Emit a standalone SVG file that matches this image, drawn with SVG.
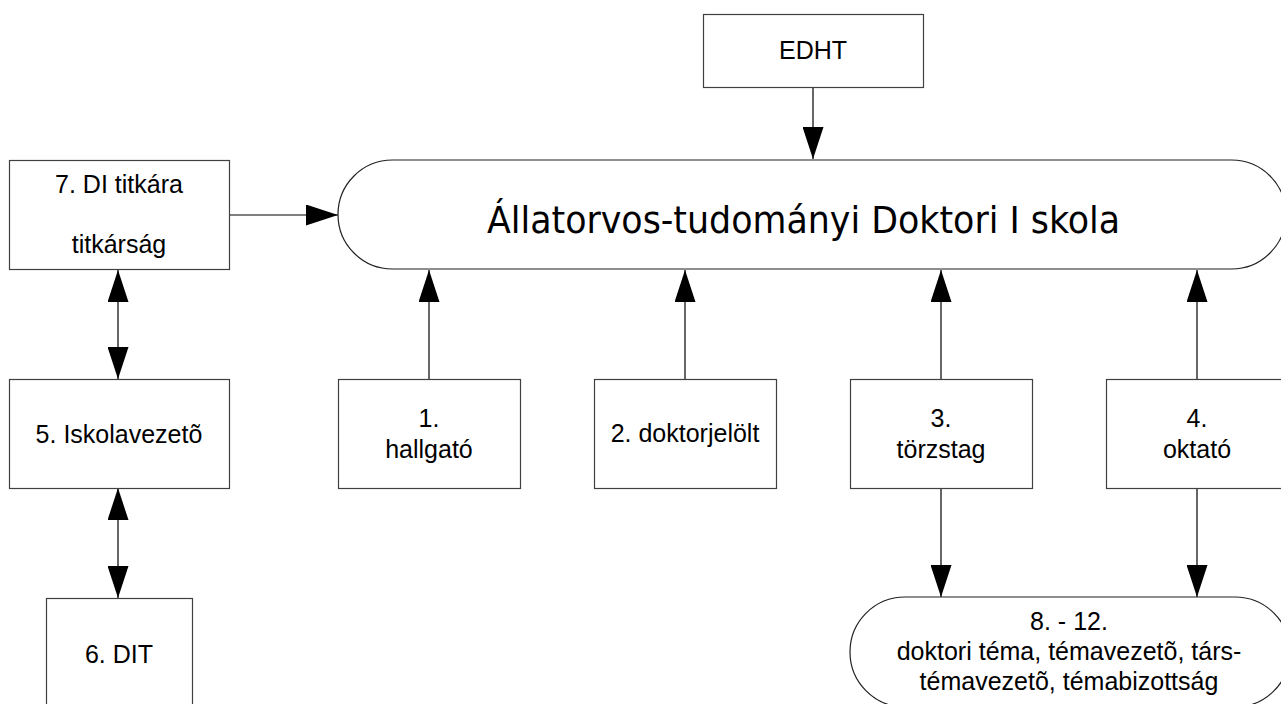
<svg xmlns="http://www.w3.org/2000/svg" width="1281" height="704" viewBox="0 0 1281 704">
<defs>
<style>
.box{fill:#fff;stroke:#404040;stroke-width:1.2}
.pill{fill:#fff;stroke:#202020;stroke-width:1.2}
.t{font-family:"Liberation Sans",Arial,sans-serif;font-size:25px;fill:#000;text-anchor:middle}
.title{font-family:"Liberation Sans Narrow","DejaVu Sans Condensed",sans-serif;font-size:38px;fill:#000}
.c{stroke:#000;stroke-width:1.2;fill:none}
</style>
<marker id="ah" markerUnits="userSpaceOnUse" markerWidth="32" markerHeight="21" refX="32" refY="10.5" orient="auto-start-reverse" viewBox="0 0 32 21">
<path d="M0,0 L32,10.5 L0,21 z" fill="#000"/>
</marker>
</defs>
<g id="connectors">
<line class="c" x1="813" y1="87" x2="813" y2="159" marker-end="url(#ah)"/>
<line class="c" x1="229" y1="215" x2="338" y2="215" marker-end="url(#ah)"/>
<line class="c" x1="429" y1="379" x2="429" y2="270" marker-end="url(#ah)"/>
<line class="c" x1="685" y1="379" x2="685" y2="270" marker-end="url(#ah)"/>
<line class="c" x1="941" y1="379" x2="941" y2="270" marker-end="url(#ah)"/>
<line class="c" x1="1197" y1="379" x2="1197" y2="270" marker-end="url(#ah)"/>
<line class="c" x1="941" y1="488" x2="941" y2="597" marker-end="url(#ah)"/>
<line class="c" x1="1197" y1="488" x2="1197" y2="597" marker-end="url(#ah)"/>
<line class="c" x1="118" y1="270" x2="118" y2="379" marker-start="url(#ah)" marker-end="url(#ah)"/>
<line class="c" x1="118" y1="488" x2="118" y2="598" marker-start="url(#ah)" marker-end="url(#ah)"/>
</g>
<g id="edht">
<rect class="box" x="703.5" y="14.5" width="220" height="73"/>
<text class="t" x="813" y="59">EDHT</text>
</g>
<g id="iskola">
<rect class="pill" x="338" y="160" width="948" height="109" rx="54.5" ry="54.5"/>
<text class="title" x="487" y="233" textLength="633" lengthAdjust="spacingAndGlyphs">Állatorvos-tudományi Doktori I skola</text>
</g>
<g id="n7">
<rect class="box" x="9.5" y="160.5" width="220" height="109"/>
<text class="t" x="119" y="193">7. DI titkára</text>
<text class="t" x="119" y="253">titkárság</text>
</g>
<g id="n5">
<rect class="box" x="9.5" y="379.5" width="220" height="109"/>
<text class="t" x="119" y="443">5. Iskolavezetõ</text>
</g>
<g id="n6">
<rect class="box" x="46.5" y="598.5" width="146" height="120"/>
<text class="t" x="119" y="663">6. DIT</text>
</g>
<g id="n1">
<rect class="box" x="338.5" y="379.5" width="182" height="109"/>
<text class="t" x="429" y="427">1.</text>
<text class="t" x="429" y="458">hallgató</text>
</g>
<g id="n2">
<rect class="box" x="594.5" y="379.5" width="182" height="109"/>
<text class="t" x="685" y="442">2. doktorjelölt</text>
</g>
<g id="n3">
<rect class="box" x="850.5" y="379.5" width="182" height="109"/>
<text class="t" x="941" y="427">3.</text>
<text class="t" x="941" y="458">törzstag</text>
</g>
<g id="n4">
<rect class="box" x="1106.5" y="379.5" width="182" height="109"/>
<text class="t" x="1197" y="427">4.</text>
<text class="t" x="1197" y="458">oktató</text>
</g>
<g id="n8">
<rect class="pill" x="850" y="597" width="440" height="110" rx="55" ry="55"/>
<text class="t" x="1069" y="630">8. - 12.</text>
<text class="t" x="1069" y="660">doktori téma, témavezetõ, társ-</text>
<text class="t" x="1069" y="690">témavezetõ, témabizottság</text>
</g>
</svg>
